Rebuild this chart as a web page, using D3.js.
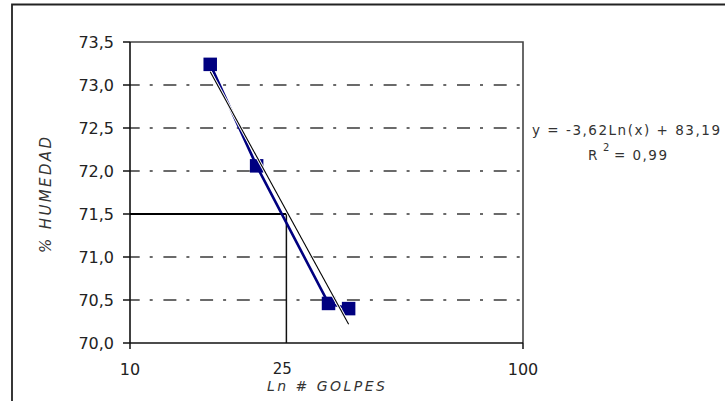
<!DOCTYPE html>
<html>
<head>
<meta charset="utf-8">
<script src="https://cdn.jsdelivr.net/npm/d3@7/dist/d3.min.js"></script>
<style>
  html, body { margin: 0; padding: 0; background: #fff; }
  svg { display: block; font-family: "DejaVu Sans", Verdana, sans-serif; }
</style>
</head>
<body>
<svg id="chart" width="725" height="401"></svg>
<script>
// Número de golpes vs. contenido de humedad (límite líquido)
const golpes  = [16, 21, 32, 36];
const humedad = [73.24, 72.06, 70.46, 70.40];

const yTicks = [70.0, 70.5, 71.0, 71.5, 72.0, 72.5, 73.0, 73.5];
const yGrid  = [70.5, 71.0, 71.5, 72.0, 72.5, 73.0];
const xTicks = [10, 100];

// Línea de tendencia logarítmica y = a·Ln(x) + b
const trendA = -3.62;
const trendB = 83.19;
const trendR2 = 0.99;

// Lectura del límite líquido a 25 golpes
const golpesLimite = 25;
const humedadLimite = 71.5;

const svg = d3.select("#chart");
const m = { left: 130, right: 523, top: 42, bottom: 343 };

const x = d3.scaleLog().domain([10, 100]).range([m.left, m.right]);
const y = d3.scaleLinear().domain([70, 73.5]).range([m.bottom, m.top]);
// Formato con coma decimal y guion simple como signo menos
const fmtN = p => v => d3.format(p)(v).replace("\u2212", "-").replace(".", ",");
const fmt = fmtN(".1f");
const fmt2 = fmtN(".2f");

// Marco exterior
svg.append("path")
  .attr("d", "M12,402 V4.5 H726")
  .attr("fill", "none").attr("stroke", "#222").attr("stroke-width", 1.8);

// Líneas de cuadrícula (raya-punto)
svg.append("g").selectAll("line").data(yGrid).join("line")
  .attr("x1", m.left).attr("x2", m.right)
  .attr("y1", d => y(d)).attr("y2", d => y(d))
  .attr("stroke", "#3a3a3a").attr("stroke-width", 1.5)
  .attr("stroke-dasharray", "13,10,3,10.7")
  .attr("stroke-dashoffset", 3.3);

// Marco del área de trazado (superior y derecho)
svg.append("path")
  .attr("d", `M${m.left},${m.top} H${m.right} V${m.bottom}`)
  .attr("fill", "none").attr("stroke", "#444").attr("stroke-width", 1.6);

// Eje Y
const yAxis = svg.append("g");
yAxis.append("line")
  .attr("x1", m.left).attr("x2", m.left)
  .attr("y1", m.top).attr("y2", m.bottom)
  .attr("stroke", "#111").attr("stroke-width", 1.6);
yAxis.selectAll("line.tick").data(yTicks).join("line")
  .attr("class", "tick")
  .attr("x1", m.left - 7).attr("x2", m.left)
  .attr("y1", d => y(d)).attr("y2", d => y(d))
  .attr("stroke", "#111").attr("stroke-width", 1.5);
yAxis.selectAll("text").data(yTicks).join("text")
  .attr("x", 114).attr("y", d => y(d) + 5.8)
  .attr("text-anchor", "end")
  .attr("font-size", 16).attr("fill", "#222")
  .text(fmt);

// Eje X
const xAxis = svg.append("g");
xAxis.append("line")
  .attr("x1", m.left).attr("x2", m.right)
  .attr("y1", m.bottom).attr("y2", m.bottom)
  .attr("stroke", "#111").attr("stroke-width", 1.6);
xAxis.selectAll("line.tick").data(xTicks).join("line")
  .attr("class", "tick")
  .attr("x1", d => x(d)).attr("x2", d => x(d))
  .attr("y1", m.bottom).attr("y2", m.bottom + 6)
  .attr("stroke", "#111").attr("stroke-width", 1.5);
xAxis.selectAll("text").data(xTicks).join("text")
  .attr("x", d => x(d)).attr("y", 375)
  .attr("text-anchor", "middle")
  .attr("font-size", 16).attr("fill", "#222")
  .text(d => d);

// Líneas de lectura a 25 golpes
svg.append("line")
  .attr("x1", m.left).attr("x2", x(golpesLimite))
  .attr("y1", y(humedadLimite)).attr("y2", y(humedadLimite))
  .attr("stroke", "#000").attr("stroke-width", 2.2);
svg.append("line")
  .attr("x1", x(golpesLimite)).attr("x2", x(golpesLimite))
  .attr("y1", y(humedadLimite)).attr("y2", m.bottom)
  .attr("stroke", "#111").attr("stroke-width", 1.5);
svg.append("text")
  .attr("x", x(golpesLimite) - 4).attr("y", 373.5)
  .attr("text-anchor", "middle")
  .attr("font-size", 15).attr("fill", "#222")
  .text(golpesLimite);

// Serie de datos
const pts = golpes.map((g, i) => [g, humedad[i]]);
svg.append("path")
  .datum(pts)
  .attr("d", d3.line().x(d => x(d[0])).y(d => y(d[1])))
  .attr("fill", "none").attr("stroke", "#000080").attr("stroke-width", 2.6)
  .attr("stroke-linejoin", "round");
const ms = 13.5;
svg.append("g").selectAll("rect").data(pts).join("rect")
  .attr("x", d => x(d[0]) - ms / 2).attr("y", d => y(d[1]) - ms / 2)
  .attr("width", ms).attr("height", ms)
  .attr("fill", "#000080");

// Línea de tendencia sobre el rango de los datos
const xr = d3.extent(golpes);
const trend = xr.map(g => [g, trendA * Math.log(g) + trendB]);
const trendLine = d3.line().x(d => x(d[0])).y(d => y(d[1]));
svg.append("path").datum(trend).attr("d", trendLine)
  .attr("fill", "none").attr("stroke", "#fff").attr("stroke-width", 3);
svg.append("path").datum(trend).attr("d", trendLine)
  .attr("fill", "none").attr("stroke", "#000").attr("stroke-width", 1.1);

// Ecuación y R²
svg.append("text")
  .attr("x", 532).attr("y", 135)
  .attr("font-size", 13.5).attr("fill", "#333")
  .attr("textLength", 188).attr("lengthAdjust", "spacing")
  .text(`y = ${fmt2(trendA)}Ln(x) + ${fmt2(trendB)}`);
svg.append("text")
  .attr("x", 588).attr("y", 160)
  .attr("font-size", 13.5).attr("fill", "#333")
  .text("R");
svg.append("text")
  .attr("x", 603).attr("y", 151)
  .attr("font-size", 10).attr("fill", "#333")
  .text("2");
svg.append("text")
  .attr("x", 614).attr("y", 160)
  .attr("font-size", 13.5).attr("fill", "#333")
  .attr("textLength", 53).attr("lengthAdjust", "spacing")
  .text(`= ${fmt2(trendR2)}`);

// Títulos de ejes
svg.append("text")
  .attr("x", 267).attr("y", 391)
  .attr("font-size", 14).attr("font-style", "italic").attr("fill", "#333")
  .attr("textLength", 118).attr("lengthAdjust", "spacing")
  .text("Ln # GOLPES");
svg.append("text")
  .attr("transform", "translate(51,253) rotate(-90)")
  .attr("font-size", 15).attr("font-style", "italic").attr("fill", "#333")
  .attr("textLength", 116).attr("lengthAdjust", "spacing")
  .text("% HUMEDAD");
</script>
</body>
</html>
